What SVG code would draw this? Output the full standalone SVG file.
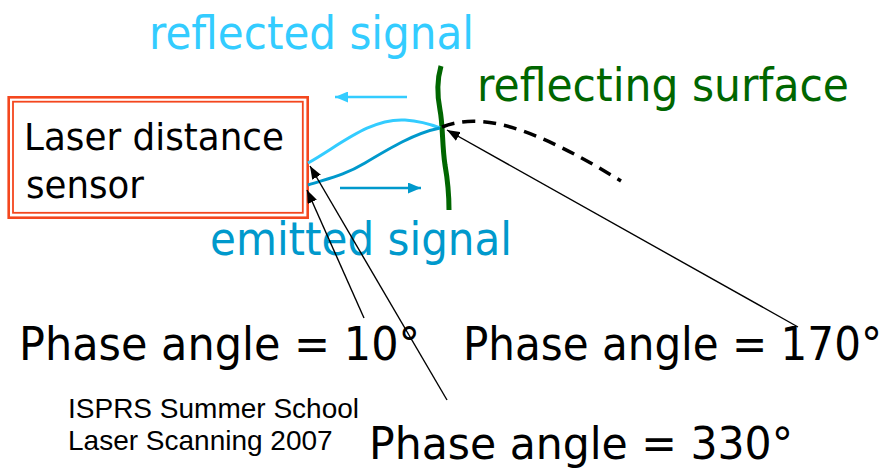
<svg xmlns="http://www.w3.org/2000/svg" width="888" height="470" viewBox="0 0 888 470">
<style>
.t{font-family:"DejaVu Sans","Verdana",sans-serif}
.s{font-family:"Liberation Sans",Arial,sans-serif;font-size:28px;fill:#000}
.ph{font-size:47px;fill:#000}
.lbl{font-size:46px}
.ptr{stroke:#000;stroke-width:1.4;fill:none;marker-end:url(#ab)}
</style>
<defs>
<marker id="ab" markerUnits="userSpaceOnUse" markerWidth="14" markerHeight="10" refX="13" refY="5" orient="auto"><path d="M0,0 L13,5 L0,10 z" fill="#000"/></marker>
<marker id="al" markerUnits="userSpaceOnUse" markerWidth="14" markerHeight="11" refX="13" refY="5.5" orient="auto"><path d="M0,0 L13,5.5 L0,11 z" fill="#33CCFF"/></marker>
<marker id="ad" markerUnits="userSpaceOnUse" markerWidth="14" markerHeight="11" refX="13" refY="5.5" orient="auto"><path d="M0,0 L13,5.5 L0,11 z" fill="#0099CC"/></marker>
</defs>
<rect width="888" height="470" fill="#fff"/>

<g id="reflected-label"><text class="t lbl" x="149" y="49" fill="#33CCFF" textLength="325" lengthAdjust="spacingAndGlyphs">reflected signal</text></g>
<g id="surface-label"><text class="t lbl" x="477" y="101" fill="#006600" textLength="372" lengthAdjust="spacingAndGlyphs">reflecting surface</text></g>
<g id="emitted-label"><text class="t lbl" x="210" y="255" fill="#0099CC" textLength="302" lengthAdjust="spacingAndGlyphs">emitted signal</text></g>

<g id="sensor">
<rect x="8.7" y="97.3" width="299" height="120.4" fill="#fff" stroke="#F4471E" stroke-width="2.6"/>
<rect x="13" y="101.7" width="289.8" height="111.1" fill="none" stroke="#F4471E" stroke-width="1.8"/>
<text class="t" font-size="38" x="24" y="150" fill="#000" textLength="260" lengthAdjust="spacingAndGlyphs">Laser distance</text>
<text class="t" font-size="38" x="26" y="198" fill="#000" textLength="118" lengthAdjust="spacingAndGlyphs">sensor</text>
</g>

<g id="surface">
<path d="M441,66 C437,80 437,95 440,110 C443,125 442,145 445,165 C448,182 449,195 449,210" fill="none" stroke="#006600" stroke-width="5"/>
</g>

<g id="connectors">
<path d="M308,163 C340,145 370,118 405,120 C420,121 430,124 440,128" fill="none" stroke="#33CCFF" stroke-width="3"/>
<path d="M308,185 C330,178 345,175 365,163 C390,148 415,133 440,128" fill="none" stroke="#0099CC" stroke-width="3"/>
<path d="M442,127 C480,112 530,125 621,181" fill="none" stroke="#000" stroke-width="3.5" stroke-dasharray="13,8"/>
<line x1="407" y1="97" x2="335" y2="97" stroke="#33CCFF" stroke-width="2.5" marker-end="url(#al)"/>
<line x1="340" y1="188" x2="421" y2="188" stroke="#0099CC" stroke-width="2.5" marker-end="url(#ad)"/>
<line class="ptr" x1="798" y1="327" x2="447" y2="130"/>
<line class="ptr" x1="364" y1="318" x2="307" y2="190"/>
<line class="ptr" x1="447" y1="400" x2="310" y2="166"/>
</g>

<g id="phase10"><text class="t ph" x="19" y="360" textLength="401" lengthAdjust="spacingAndGlyphs">Phase angle = 10°</text></g>
<g id="phase170"><text class="t ph" transform="translate(463,360) scale(0.895,1)" x="0" y="0">Phase angle = 170°</text></g>
<g id="phase330"><text class="t" font-size="45" x="369" y="459" textLength="424" lengthAdjust="spacingAndGlyphs">Phase angle = 330°</text></g>

<g id="footer">
<text class="s" x="68" y="418">ISPRS Summer School</text>
<text class="s" x="68" y="450">Laser Scanning 2007</text>
</g>
</svg>
